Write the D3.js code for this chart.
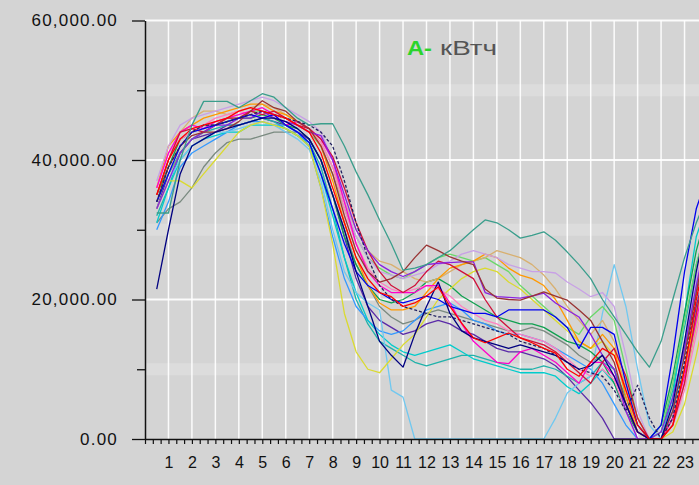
<!DOCTYPE html>
<html>
<head>
<meta charset="utf-8">
<script src="https://cdn.jsdelivr.net/npm/d3@7"></script>
<style>
  body { margin: 0; background: #d4d4d4; }
  svg { display: block; font-family: "Liberation Sans", Arial, sans-serif; }
</style>
</head>
<body>
<svg id="chart" width="699" height="485"></svg>
<script>
// half-hour readings, kWh
const hours = [0.5,1,1.5,2,2.5,3,3.5,4,4.5,5,5.5,6,6.5,7,7.5,8,8.5,9,9.5,10,10.5,11,11.5,12,
  12.5,13,13.5,14,14.5,15,15.5,16,16.5,17,17.5,18,18.5,19,19.5,20,20.5,21,21.5,22,22.5,23,23.5,24];

const s01 = [32400,32400,40000,45000,48400,48400,48400,47500,48500,49500,49000,47500,46000,45000,45200,45200,42000,38300,35000,31400,28000,24200,24500,25000,26000,27000,28500,30000,31400,31000,30000,28800,29200,29700,28500,26800,25000,23000,20000,17500,15000,12500,10300,14000,20000,26000,31000,35000];
const s02 = [21500,30000,38000,42000,43000,44000,44500,45000,45500,46000,46000,45500,44500,43000,40000,35000,30000,24000,19000,14000,12000,10300,15000,19000,22500,18000,15500,14500,14000,13500,13000,13500,13000,12500,12000,11000,10000,10500,12000,9000,5000,1000,0,0,5000,14000,24000,32000];
const s03 = [34000,38000,42000,44000,44500,45000,45500,46000,46500,46000,46500,45000,44000,42500,38000,33000,28000,24000,22000,21000,20000,19500,20000,20500,20000,19000,18500,18000,18000,17500,18500,18500,18500,18500,17500,16000,13000,16000,16000,15000,8000,2000,0,2000,12000,24000,33000,38000];
const s04 = [35000,40000,43000,44500,45000,45500,46000,47000,47500,47000,46500,46000,45000,44000,41000,36000,31000,26000,23000,21000,20400,19000,19500,20500,21800,19000,16600,14500,13800,14500,15200,14500,13800,13000,12300,10000,9000,11000,13000,12000,7000,2000,0,0,2000,10000,20000,28000];
const s05 = [36000,41000,44000,45000,44500,45500,46000,46500,47000,47500,46500,45000,45500,44500,43000,40000,34000,28000,24000,22000,21000,21000,21000,22000,22000,19500,16500,14000,12500,11000,10800,12500,13000,12000,11000,9500,8000,11000,11000,9000,5000,1000,0,0,3000,9000,17000,25000];
const s06 = [33000,37000,41000,43000,44000,45000,45000,46000,46000,47000,46000,45500,45000,44000,43500,40000,35000,30000,27000,25000,24000,23300,24000,25000,25200,25300,25400,25400,21000,20400,20300,20200,20500,20900,19500,18500,17500,15000,12000,10000,4000,0,0,1000,6000,13000,22000,30000];
const s07 = [34000,39000,42000,43500,44000,44000,44500,45500,47000,48500,47500,47000,45500,44500,42000,38000,32000,27000,24000,22500,23000,24000,26000,27800,27000,26100,25500,25000,21500,20200,20000,19900,20500,21100,20500,19900,18500,17000,14000,11000,5000,1000,0,0,4000,12000,21000,30000];
const s08 = [36000,42000,44000,45000,46000,46500,47000,47500,48000,48000,47000,46500,45500,44500,42000,37000,31000,26000,22000,19500,18500,18500,19000,21000,23000,24500,25000,25500,26500,26000,24500,23500,23000,22000,20000,17000,14000,13000,15000,13000,6000,1000,0,0,3000,10000,18000,26000];
const s09 = [33000,37000,37000,36000,38000,40000,42000,44000,45000,45500,45000,44500,43500,42000,36000,28000,18000,12500,10000,9500,11500,13500,15000,17500,20000,21500,23000,24000,24500,24000,22500,21500,20000,18500,17000,15500,14000,13000,14000,12000,8000,3000,0,0,1000,5000,12000,20000];
const s10 = [34000,38000,41000,43000,44000,45000,46000,46000,47000,47000,46500,46000,45000,44000,42000,38000,33000,29000,26000,24500,23500,23000,24000,25000,26000,26500,26000,25500,26000,25000,24000,22000,20500,19000,17500,16000,15000,17500,19000,17000,10000,3000,0,1000,8000,17000,25000,31000];
const s11 = [35000,39000,43000,44000,45000,45000,45500,46000,46000,46500,46000,45000,44500,43000,40000,35000,29000,25000,22000,20000,19500,20000,21000,22500,23000,22000,20500,19500,18500,17500,17000,16500,16500,16000,15000,14000,13500,12500,11000,8000,4000,1000,0,2000,9000,18000,27000,33000];
const s12 = [31000,36000,40000,42000,43000,43500,44000,44000,45000,45000,45000,44500,43500,42000,38000,32000,26000,21000,17000,15000,13500,12500,12000,12500,13000,13500,12500,11500,11000,10500,10000,9500,9500,9500,9000,7500,6500,8000,10000,8000,4000,1000,0,0,6000,18000,29000,34000];
const s13 = [33000,37000,40000,42000,43000,44000,44000,44500,45000,45500,45000,44000,43000,41500,37000,30000,24000,21000,19500,18500,7000,6000,0,0,0,0,0,0,0,0,0,0,0,0,3000,6600,8000,9000,18000,25000,19000,10000,2000,0,3000,12000,22000,30000];
const s14 = [37000,42000,45000,46000,46500,47000,47500,48000,48500,49000,48500,47500,46500,45500,44000,40000,34000,29000,26000,24000,23500,23000,23500,24000,25000,25500,26500,27000,26500,26000,25000,24500,24000,24000,23800,22500,21500,20400,21000,19000,12000,4000,0,0,5000,14000,23000,30000];
const s15 = [35000,40000,44000,46000,47000,47000,46500,47000,47500,48000,47500,46500,45500,44500,42500,39000,34000,30000,27000,25500,25000,24000,23000,22500,23000,24000,25000,25500,26000,27000,26500,26000,25000,23500,21500,19000,17000,15000,17000,14000,7000,1000,0,0,2000,8000,16000,24000];
const s16 = [30000,34000,39000,41000,42000,43000,44000,45000,45500,45500,45000,45000,44000,42000,36000,29000,23000,19000,17000,15500,15000,15500,17000,18500,19000,19500,18500,17000,16500,15500,15000,15000,14500,14000,13000,12000,11000,10000,8000,5000,2000,0,0,0,4000,13000,22000,29000];
const s17 = [34000,39000,42000,44000,45000,45000,45500,46000,46500,47000,46500,46000,45500,45000,44000,42000,37000,31000,26000,22000,20000,19000,18500,18000,17500,17500,17000,16500,16000,15500,15000,14000,13500,13000,12000,11000,10000,9500,9000,7000,4000,7700,3000,0,3000,11000,20000,28000];
const s18 = [36000,41000,43000,44000,45000,46000,46500,47000,46500,46000,46500,46000,45000,44000,42500,39000,33000,28000,24500,22500,21500,21000,21500,22000,21500,20500,19000,18000,17000,16500,15500,15000,14500,14000,13000,11500,10000,9000,10000,8500,4000,0,0,0,2000,7000,15000,23000];
const s19 = [32000,36000,41000,43000,44000,44500,45000,45000,45500,46000,45500,44500,43500,42500,39000,33000,26000,20000,16500,14000,13000,12000,11000,10500,11000,11500,12000,12000,11500,11000,10500,10000,10000,10500,10000,9000,8000,9000,11000,10000,6000,2000,0,1000,7000,16000,25000,31000];
const s20 = [35000,40000,44000,44500,44000,45000,46000,46000,47000,46500,47000,46000,45000,44500,43000,40500,36000,31000,27000,24000,22000,21000,22000,24000,25500,25000,24000,23000,20000,17500,16000,14500,14000,13500,12500,11000,9500,8000,11000,13000,9000,3000,0,0,2000,8000,18000,27000];
const s21 = [33000,38000,41000,43000,43500,44000,45000,45000,45500,46000,45500,45000,44000,43000,40000,35000,29000,23000,19000,17000,16000,15000,15500,16500,17000,16500,15500,15000,14000,13000,12500,12500,12000,11500,10500,8900,7000,5200,3000,0,0,0,0,0,3000,10000,19000,26000];
const s22 = [31000,33000,34000,36000,39000,41000,42500,43000,43000,43500,44000,44000,44000,43000,40000,35000,30000,25000,22000,19000,17500,16500,17000,18000,18500,18000,17500,17000,16500,16000,15500,15500,16000,15500,14500,13500,12000,11000,12000,10000,5000,1000,0,0,4000,12000,21000,28000];

const seriesList = [s22,s21,s19,s16,s12,s13,s11,s10,s09,s15,s08,s14,s18,s05,s20,s06,s07,s03,s17,s02,s04,s01];
const lineColors = ["#7a8a80","#5a2aa8","#20b2aa","#3399ff","#00cccc","#70c8f0","#10a050","#6ad86a","#dada30","#d8b070","#ff9900","#c8a0e6","#ff80c0","#ff00cc","#d0103a","#8a20e0","#993333","#0000ee","#202060","#000080","#ff0000","#3a9e8c"];
const dashedSeries = [s17];

const yMajor = [0, 20000, 40000, 60000];
const yMinor = [10000, 30000, 50000];
const xLabels = [1,2,3,4,5,6,7,8,9,10,11,12,13,14,15,16,17,18,19,20,21,22,23];
const titleMain = "А-";
const titleUnit = "кВтч";

const W = 699, H = 485;
const svg = d3.select("#chart");

const x = d3.scaleLinear().domain([0, 24]).range([145, 708]);
const y = d3.scaleLinear().domain([0, 60000]).range([439, 20.5]);

svg.append("rect").attr("width", W).attr("height", H).attr("fill", "#d4d4d4");

// faint minor bands
svg.append("g").selectAll("line").data(yMinor).join("line")
  .attr("x1", x(0)).attr("x2", W)
  .attr("y1", d => y(d)).attr("y2", d => y(d))
  .attr("stroke", "#fff").attr("stroke-opacity", 0.2).attr("stroke-width", 12);

// vertical grid
svg.append("g").selectAll("line").data(d3.range(1, 25)).join("line")
  .attr("x1", d => x(d)).attr("x2", d => x(d))
  .attr("y1", y(60000)).attr("y2", y(0))
  .attr("stroke", "#fff").attr("stroke-opacity", 0.9).attr("stroke-width", 1.5);

// major horizontal grid
svg.append("g").selectAll("line").data(yMajor.slice(1)).join("line")
  .attr("x1", x(0)).attr("x2", W)
  .attr("y1", d => y(d)).attr("y2", d => y(d))
  .attr("stroke", "#fff").attr("stroke-opacity", 0.9).attr("stroke-width", 2);

// title
const title = svg.append("g");
title.append("text")
  .attr("x", 407).attr("y", 55)
  .attr("font-size", 20).attr("font-weight", "bold")
  .attr("fill", "#2bd42b")
  .attr("textLength", 25).attr("lengthAdjust", "spacingAndGlyphs")
  .text(titleMain);
title.append("text")
  .attr("x", 440).attr("y", 55)
  .attr("font-size", 20)
  .attr("fill", "#555")
  .attr("textLength", 57).attr("lengthAdjust", "spacingAndGlyphs")
  .text(titleUnit);

// lines
const line = d3.line()
  .x((d, i) => x(hours[i]))
  .y(d => y(d));

svg.append("g")
  .attr("fill", "none")
  .attr("stroke-width", 1.3)
  .attr("stroke-linejoin", "round")
  .selectAll("path")
  .data(seriesList)
  .join("path")
  .attr("stroke", (d, i) => lineColors[i])
  .attr("stroke-dasharray", d => dashedSeries.includes(d) ? "3,2" : null)
  .attr("d", line);

// y axis
const yAxis = svg.append("g")
  .attr("transform", `translate(${x(0)},0)`)
  .call(d3.axisLeft(y).tickValues(yMajor).tickSize(13).tickSizeOuter(0)
    .tickPadding(14).tickFormat(d3.format(",.2f")));
yAxis.select(".domain").attr("stroke", "#111").attr("stroke-width", 1.5);
yAxis.selectAll(".tick line").attr("stroke", "#111").attr("stroke-width", 1.3);
yAxis.selectAll("text")
  .attr("font-size", 17).attr("letter-spacing", 1.2)
  .attr("fill", "#111").style("font-family", "'Liberation Sans', Arial, sans-serif");

const yMinorAxis = svg.append("g")
  .attr("transform", `translate(${x(0)},0)`)
  .call(d3.axisLeft(y).tickValues(yMinor).tickSize(8).tickSizeOuter(0).tickFormat(""));
yMinorAxis.select(".domain").remove();
yMinorAxis.selectAll(".tick line").attr("stroke", "#111").attr("stroke-width", 1.3);

// x axis
const xTicks = d3.range(0, 73).map(k => k / 3);
const xAxis = svg.append("g")
  .attr("transform", `translate(0,${y(0)})`)
  .call(d3.axisBottom(x).tickValues(xTicks).tickSize(5).tickSizeOuter(0).tickPadding(13)
    .tickFormat(d => {
      const r = Math.round(d);
      return Math.abs(d - r) < 1e-6 && xLabels.includes(r) ? r : "";
    }));
xAxis.select(".domain").attr("stroke", "#111").attr("stroke-width", 1.5);
xAxis.selectAll(".tick line").attr("stroke", "#111").attr("stroke-width", 1.2);
xAxis.selectAll("text")
  .attr("font-size", 16).attr("fill", "#111")
  .style("font-family", "'Liberation Sans', Arial, sans-serif");
</script>
</body>
</html>
